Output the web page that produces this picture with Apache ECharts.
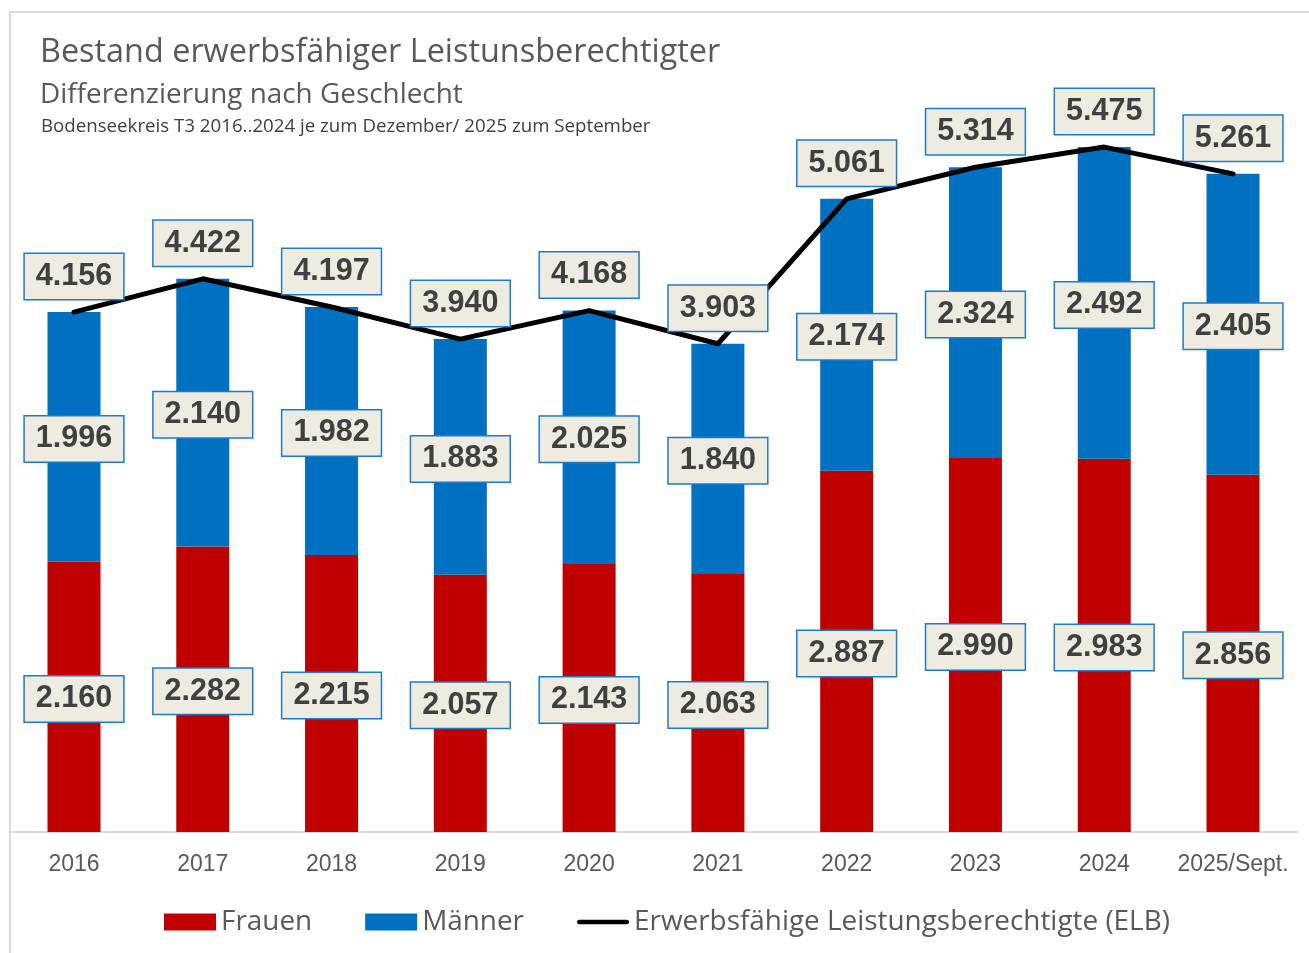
<!DOCTYPE html>
<html>
<head>
<meta charset="utf-8">
<script src="https://cdn.jsdelivr.net/npm/echarts@6/dist/echarts.min.js"></script>
<style>
  html, body { margin: 0; padding: 0; background: #fff; }
  #main { width: 1309px; height: 953px; }
</style>
</head>
<body>
<div id="main"></div>
<script>
var years = ['2016', '2017', '2018', '2019', '2020', '2021', '2022', '2023', '2024', '2025/Sept.'];
var frauen = [2160, 2282, 2215, 2057, 2143, 2063, 2887, 2990, 2983, 2856];
var maenner = [1996, 2140, 1982, 1883, 2025, 1840, 2174, 2324, 2492, 2405];
var elb = [4156, 4422, 4197, 3940, 4168, 3903, 5061, 5314, 5475, 5261];

// deutsche Tausenderpunkte
function fmt(p) {
    var v = p.value;
    var rest = String(v % 1000);
    while (rest.length < 3) rest = '0' + rest;
    return Math.floor(v / 1000) + '.' + rest;
}

var boxLabel = {
    show: true,
    formatter: fmt,
    offset: [0, 2],
    fontFamily: 'Liberation Sans, Arial, sans-serif',
    fontWeight: 'bold',
    fontSize: 30.5,
    lineHeight: 31,
    color: '#404040',
    backgroundColor: '#EEECE1',
    borderColor: '#1F7BC8',
    borderWidth: 1.5,
    padding: [7, 11]
};

var gray = '#595959';
var uiFont = 'Open Sans, sans-serif';

var chart = echarts.init(document.getElementById('main'));
chart.setOption({
    animation: false,
    graphic: [{
        type: 'rect',
        shape: { x: 10, y: 12, width: 1330, height: 980 },
        style: { fill: 'none', stroke: '#D9D9D9', lineWidth: 2 },
        silent: true
    }],
    title: [
        { text: 'Bestand erwerbsfähiger Leistunsberechtigter', left: 40, top: 34, padding: 0,
          textStyle: { fontFamily: uiFont, fontWeight: 'normal', fontSize: 32.4, lineHeight: 38, color: gray } },
        { text: 'Differenzierung nach Geschlecht', left: 40, top: 79, padding: 0,
          textStyle: { fontFamily: uiFont, fontWeight: 'normal', fontSize: 27.9, lineHeight: 32, color: gray } },
        { text: 'Bodenseekreis T3 2016..2024 je zum Dezember/ 2025 zum September', left: 41, top: 116, padding: 0,
          textStyle: { fontFamily: uiFont, fontWeight: 'normal', fontSize: 18.7, lineHeight: 22, color: '#404040' } }
    ],
    legend: {
        left: 164,
        top: 908,
        padding: 0,
        itemWidth: 52,
        itemHeight: 17,
        itemGap: 53,
        textStyle: { fontFamily: uiFont, fontSize: 27.9, color: gray },
        data: [
            { name: 'Frauen', icon: 'rect' },
            { name: 'Männer', icon: 'rect' },
            { name: 'Erwerbsfähige Leistungsberechtigte (ELB)', icon: 'path://M2.5,0 H52.5 A2.5,2.5 0 0 1 52.5,5 H2.5 A2.5,2.5 0 0 1 2.5,0 Z' }
        ]
    },
    grid: { left: 9.6, right: 11.6, top: 81.4, bottom: 121 },
    xAxis: {
        type: 'category',
        data: years,
        axisLine: { lineStyle: { color: '#D9D9D9', width: 2 } },
        axisTick: { show: false },
        axisLabel: {
            interval: 0,
            margin: 21,
            fontFamily: 'Liberation Sans, Arial, sans-serif',
            fontSize: 23,
            color: gray
        }
    },
    yAxis: {
        type: 'value',
        min: 0,
        max: 6000,
        show: false
    },
    series: [
        {
            name: 'Frauen',
            type: 'bar',
            stack: 'elb',
            barWidth: 53,
            data: frauen,
            itemStyle: { color: '#C00000' },
            label: Object.assign({ position: 'inside' }, boxLabel)
        },
        {
            name: 'Männer',
            type: 'bar',
            stack: 'elb',
            barWidth: 53,
            data: maenner,
            itemStyle: { color: '#0070C0' },
            label: Object.assign({ position: 'inside' }, boxLabel)
        },
        {
            name: 'Erwerbsfähige Leistungsberechtigte (ELB)',
            type: 'line',
            data: elb,
            symbol: 'circle',
            symbolSize: 2,
            showSymbol: true,
            z: 5,
            lineStyle: { color: '#000', width: 5, cap: 'round', join: 'round' },
            itemStyle: { color: '#000' },
            label: Object.assign({ position: 'top', distance: 14 }, boxLabel)
        }
    ]
});
</script>
</body>
</html>
